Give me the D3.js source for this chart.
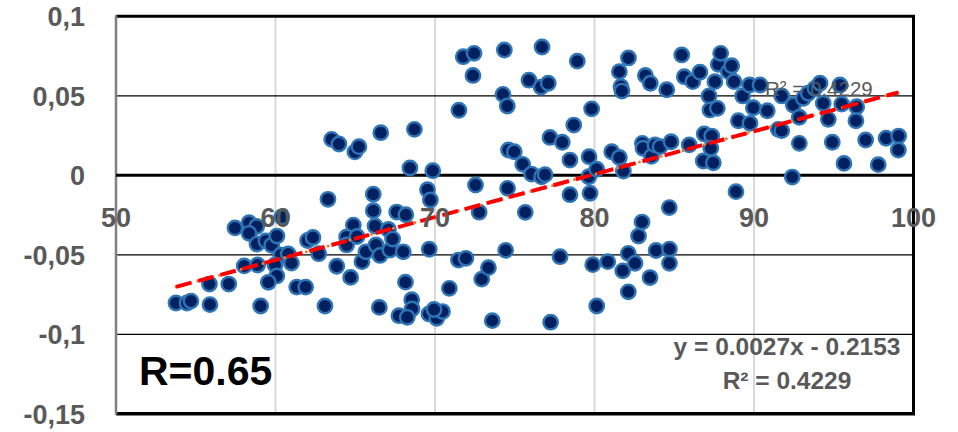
<!DOCTYPE html>
<html>
<head>
<meta charset="utf-8">
<script src="https://cdn.jsdelivr.net/npm/d3@7"></script>
<style>
  html, body { margin: 0; padding: 0; background: #fff; }
  svg { display: block; }
</style>
</head>
<body>
<svg id="chart" width="958" height="432"></svg>
<script>
// Observed sample values (x: score, y: residual)
const xValues = [
  53.76, 54.45, 54.70, 55.86, 55.89, 57.07, 57.46, 58.34, 58.82, 58.34,
  58.84, 58.04, 58.88, 59.07, 59.40, 59.76, 60.09, 60.39, 60.33, 60.80,
  61.00, 59.97, 60.08, 59.55, 61.33, 61.89, 62.01, 62.35, 62.71, 63.10,
  63.29, 63.52, 63.98, 63.84, 64.71, 64.88, 64.46, 64.46, 65.11, 64.98,
  65.23, 65.42, 65.67, 66.13, 66.13, 66.24, 66.30, 66.55, 66.51, 66.60,
  67.08, 67.18, 67.34, 67.60, 68.17, 68.01, 68.15, 68.43, 68.71, 68.54,
  68.56, 67.74, 68.26, 69.53, 69.71, 69.86, 69.64, 69.62, 70.11, 70.47,
  69.94, 70.90, 71.47, 71.94, 71.50, 71.77, 72.45, 72.38, 72.54, 72.77,
  72.93, 73.35, 73.59, 74.35, 74.26, 74.53, 74.61, 74.97, 74.55, 74.43,
  75.50, 75.66, 75.89, 76.05, 76.68, 76.90, 76.65, 77.10, 76.71, 77.21,
  77.98, 77.84, 77.25, 78.46, 78.46, 78.70, 78.92, 79.66, 79.64, 80.14,
  79.72, 79.82, 79.89, 80.14, 80.83, 81.08, 81.56, 81.81, 81.77, 82.12,
  82.12, 81.56, 81.66, 81.72, 82.13, 82.54, 82.76, 82.98, 83.00, 83.04,
  83.19, 83.50, 83.48, 83.57, 83.79, 84.11, 83.86, 84.53, 84.69, 84.70,
  84.70, 84.80, 85.47, 85.63, 86.16, 85.94, 86.61, 86.88, 87.35, 87.29,
  86.82, 87.45, 87.18, 87.24, 87.70, 87.55, 87.76, 87.91, 88.39, 88.60,
  88.75, 88.87, 89.02, 89.29, 89.72, 90.38, 89.75, 89.96, 90.83, 91.52,
  91.74, 91.74, 92.40, 92.46, 92.84, 92.84, 93.09, 93.40, 93.82, 94.14,
  94.34, 94.66, 94.91, 95.39, 95.50, 95.64, 96.44, 96.39, 97.00, 97.79,
  98.28, 99.07, 99.05
];
const yValues = [
  -0.0803, -0.0803, -0.0791, -0.0684, -0.0813, -0.0684, -0.0331, -0.0298, -0.0322, -0.0365,
  -0.0432, -0.0570, -0.0564, -0.0822, -0.0413, -0.0440, -0.0382, -0.0262, -0.0501, -0.0495,
  -0.0552, -0.0564, -0.0633, -0.0673, -0.0703, -0.0703, -0.0410, -0.0391, -0.0493, -0.0822,
  -0.0151, 0.0226, 0.0197, -0.0572, -0.0642, -0.0313, -0.0388, -0.0438, -0.0385, 0.0147,
  0.0180, -0.0543, -0.0481, -0.0119, -0.0223, -0.0319, -0.0438, -0.0504, -0.0831, 0.0268,
  -0.0341, -0.0470, -0.0401, -0.0231, -0.0248, -0.0481, -0.0672, 0.0046, 0.0289, -0.0782,
  -0.0841, -0.0883, -0.0893, -0.0091, -0.0155, 0.0029, -0.0465, -0.0872, -0.0899, -0.0857,
  -0.0844, -0.0711, -0.0533, -0.0522, 0.0409, 0.0746, 0.0767, 0.0628, -0.0061, -0.0232,
  -0.0653, -0.0581, -0.0914, 0.0788, 0.0509, 0.0436, 0.0159, 0.0148, -0.0082, -0.0472,
  0.0069, -0.0233, 0.0598, 0.0008, -0.0009, 0.0004, 0.0555, 0.0579, 0.0807, 0.0238,
  0.0208, -0.0512, -0.0924, 0.0096, -0.0122, 0.0316, 0.0718, 0.0117, -0.0009, 0.0038,
  -0.0113, 0.0418, -0.0562, -0.0822, -0.0543, 0.0148, 0.0112, 0.0027, -0.0601, -0.0491,
  -0.0733, 0.0652, 0.0558, 0.0530, 0.0738, -0.0553, -0.0382, -0.0294, 0.0201, 0.0170,
  0.0628, 0.0579, -0.0643, 0.0119, 0.0191, 0.0180, -0.0473, 0.0538, -0.0203, -0.0464,
  -0.0553, 0.0211, 0.0757, 0.0620, 0.0589, 0.0191, 0.0648, 0.0260, 0.0247, 0.0170,
  0.0090, 0.0079, 0.0499, 0.0411, 0.0421, 0.0589, 0.0698, 0.0767, 0.0652, 0.0689,
  0.0589, -0.0103, 0.0343, 0.0499, 0.0568, 0.0568, 0.0327, 0.0425, 0.0406, 0.0289,
  0.0281, 0.0499, -0.0011, 0.0442, 0.0365, 0.0201, 0.0484, 0.0516, 0.0547, 0.0579,
  0.0453, 0.0352, 0.0208, 0.0568, 0.0448, 0.0075, 0.0431, 0.0343, 0.0222, 0.0067,
  0.0233, 0.0247, 0.0159
];

// Axis ticks
const xTicks = [50, 60, 70, 80, 90, 100];
const yTicks = [0.1, 0.05, 0, -0.05, -0.1, -0.15];

// Linear fit reported on the chart
const fitSlope = 0.0027;
const fitIntercept = -0.2153;
const rSquared = 0.4229;
const rValue = 0.65;

const points = xValues.map((x, i) => ({ x, y: yValues[i] }));

const svg = d3.select("#chart");
const plotLeft = 116, plotRight = 913.5, plotTop = 16.3, plotBottom = 413.8;

const x = d3.scaleLinear().domain([50, 100]).range([plotLeft, plotRight]);
const y = d3.scaleLinear().domain([-0.15, 0.1]).range([plotBottom, plotTop]);

const labelFont = "'Liberation Sans', Arial, sans-serif";
const grey = "#595959";

// Vertical gridlines (light grey)
svg.append("g")
  .selectAll("line")
  .data(xTicks.filter(t => t > 50 && t < 100))
  .join("line")
  .attr("x1", d => x(d)).attr("x2", d => x(d))
  .attr("y1", plotTop).attr("y2", plotBottom)
  .attr("stroke", "#d9d9d9").attr("stroke-width", 2);

// Horizontal gridlines (thin black)
svg.append("g")
  .selectAll("line")
  .data(yTicks.filter(t => t !== 0 && t !== 0.1 && t !== -0.15))
  .join("line")
  .attr("x1", plotLeft).attr("x2", plotRight)
  .attr("y1", d => y(d)).attr("y2", d => y(d))
  .attr("stroke", "#000").attr("stroke-width", 1.3);

// Plot frame: heavy top, right, bottom edges; grey value axis on the left
svg.append("line").attr("x1", plotLeft).attr("x2", plotRight + 1.5).attr("y1", y(0.1)).attr("y2", y(0.1))
  .attr("stroke", "#000").attr("stroke-width", 3);
svg.append("line").attr("x1", plotLeft).attr("x2", plotRight + 1.5).attr("y1", y(-0.15)).attr("y2", y(-0.15))
  .attr("stroke", "#000").attr("stroke-width", 3.5);
svg.append("line").attr("x1", plotRight).attr("x2", plotRight).attr("y1", y(0.1)).attr("y2", y(-0.15))
  .attr("stroke", "#000").attr("stroke-width", 3);
svg.append("line").attr("x1", plotLeft).attr("x2", plotLeft).attr("y1", y(0.1) - 1).attr("y2", y(-0.15) + 1)
  .attr("stroke", "#808080").attr("stroke-width", 2.5);

// Horizontal axis line at y = 0
svg.append("line").attr("x1", plotLeft).attr("x2", plotRight).attr("y1", y(0)).attr("y2", y(0))
  .attr("stroke", "#000").attr("stroke-width", 3);

// Y tick labels
svg.append("g")
  .selectAll("text")
  .data(yTicks)
  .join("text")
  .attr("x", 85)
  .attr("y", d => y(d))
  .attr("dy", "0.36em")
  .attr("text-anchor", "end")
  .attr("font-family", labelFont)
  .attr("font-weight", "bold")
  .attr("font-size", 27)
  .attr("fill", grey)
  .text(d => String(d).replace(".", ","));

// Scatter points
svg.append("g")
  .selectAll("circle")
  .data(points)
  .join("circle")
  .attr("cx", d => x(d.x))
  .attr("cy", d => y(d.y))
  .attr("r", 7.2)
  .attr("fill", "#002060")
  .attr("stroke", "#2e75b6")
  .attr("stroke-width", 2.4);

// Trendlines over the data range
const [xMin, xMax] = d3.extent(xValues);
const fitLine = [xMin, xMax].map(v => ({ x: v, y: fitSlope * v + fitIntercept }));
const line = d3.line().x(d => x(d.x)).y(d => y(d.y));

svg.append("path")
  .datum(fitLine)
  .attr("d", line)
  .attr("fill", "none")
  .attr("stroke", "#ed7d31")
  .attr("stroke-width", 3)
  .attr("stroke-linecap", "round")
  .attr("stroke-dasharray", "0 7.5");

svg.append("path")
  .datum(fitLine)
  .attr("d", line)
  .attr("fill", "none")
  .attr("stroke", "#ff0000")
  .attr("stroke-width", 4)
  .attr("stroke-dasharray", "16 7");

// X tick labels, sitting below the zero line and above the markers
svg.append("g")
  .selectAll("text")
  .data(xTicks)
  .join("text")
  .attr("x", d => x(d))
  .attr("y", y(0) + 52)
  .attr("text-anchor", "middle")
  .attr("font-family", labelFont)
  .attr("font-weight", "bold")
  .attr("font-size", 27)
  .attr("fill", grey)
  .text(d => d);

// Fit labels
svg.append("text")
  .attr("x", 765).attr("y", 96)
  .attr("font-family", labelFont)
  .attr("font-size", 20.5)
  .attr("fill", grey)
  .text("R² = " + String(rSquared).replace(".", ","));

svg.append("text")
  .attr("x", 787).attr("y", 355)
  .attr("text-anchor", "middle")
  .attr("font-family", labelFont)
  .attr("font-weight", "bold")
  .attr("font-size", 24.5)
  .attr("fill", grey)
  .text(`y = ${fitSlope}x - ${Math.abs(fitIntercept)}`);

svg.append("text")
  .attr("x", 787).attr("y", 389)
  .attr("text-anchor", "middle")
  .attr("font-family", labelFont)
  .attr("font-weight", "bold")
  .attr("font-size", 24.5)
  .attr("fill", grey)
  .text(`R² = ${rSquared}`);

svg.append("text")
  .attr("x", 139).attr("y", 385)
  .attr("font-family", labelFont)
  .attr("font-weight", "bold")
  .attr("font-size", 41)
  .attr("fill", "#000")
  .text(`R=${rValue}`);
</script>
</body>
</html>
